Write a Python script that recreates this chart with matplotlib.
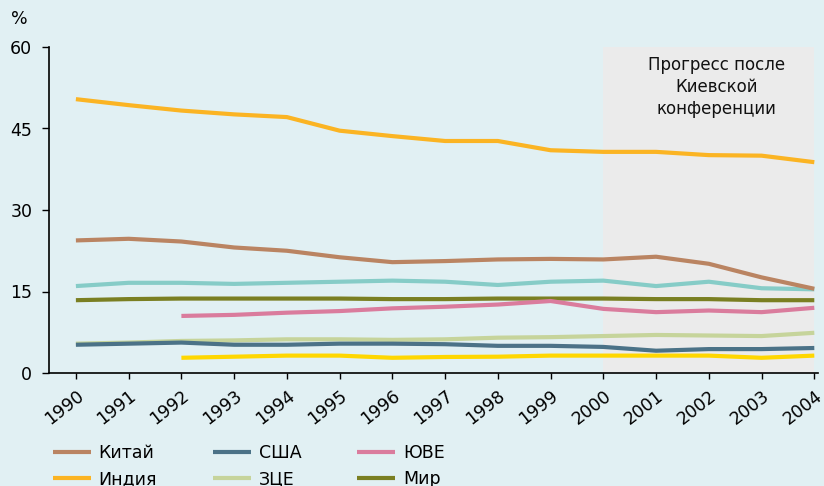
import matplotlib
matplotlib.use("Agg")
import matplotlib.pyplot as plt

years = list(range(1990, 2005))
years_from_1992 = list(range(1992, 2005))

china = [24.4, 24.7, 24.2, 23.1, 22.5, 21.3, 20.4, 20.6, 20.9, 21.0, 20.9, 21.4, 20.1, 17.6, 15.5]
india = [50.4, 49.3, 48.3, 47.6, 47.1, 44.6, 43.6, 42.7, 42.7, 41.0, 40.7, 40.7, 40.1, 40.0, 38.8]
usa = [5.2, 5.4, 5.6, 5.2, 5.2, 5.4, 5.4, 5.3, 5.0, 5.0, 4.8, 4.1, 4.4, 4.4, 4.6]
wce = [5.4, 5.6, 5.9, 6.0, 6.2, 6.2, 6.1, 6.2, 6.5, 6.6, 6.8, 7.0, 6.9, 6.8, 7.4]
see = [10.5, 10.7, 11.1, 11.4, 11.9, 12.2, 12.6, 13.25, 11.8, 11.2, 11.5, 11.2, 12.0]
world = [13.4, 13.6, 13.7, 13.7, 13.7, 13.7, 13.6, 13.6, 13.7, 13.7, 13.7, 13.6, 13.6, 13.4, 13.4]
other_cyan = [16.0, 16.6, 16.6, 16.4, 16.6, 16.8, 17.0, 16.8, 16.2, 16.8, 17.0, 16.0, 16.8, 15.6, 15.4]
other_yellow = [2.8, 3.0, 3.2, 3.2, 2.8, 2.95, 3.0, 3.2, 3.2, 3.2, 3.2, 2.8, 3.2]

yticks = [0, 15, 30, 45, 60]
annotation = "Прогресс после\nКиевской\nконференции"

bg = "#E1F0F3"
fig = plt.figure(figsize=(8.24, 4.86), dpi=100, facecolor=bg)
ax = fig.add_axes([49/824, 1-373/486, (818-49)/824, (373-47)/486], facecolor=bg)

ax.axvspan(2000, 2004, ymin=0, ymax=1, color="#EBEBEB", zorder=0, lw=0)
ax.text(2002.15, 58.4, annotation, ha="center", va="top", fontsize=12,
        linespacing=1.28, color="#111111")

lw = 3.0
ax.plot(years, other_cyan, color="#86CCC7", lw=lw, solid_capstyle="butt")
ax.plot(years, world, color="#7A7F22", lw=lw, solid_capstyle="butt", label="Мир")
ax.plot(years_from_1992, see, color="#DA7C9D", lw=lw, solid_capstyle="butt", label="ЮВЕ")
ax.plot(years, wce, color="#C6D49B", lw=lw, solid_capstyle="butt", label="ЗЦЕ")
ax.plot(years, usa, color="#4B7287", lw=lw, solid_capstyle="butt", label="США")
ax.plot(years_from_1992, other_yellow, color="#FFD700", lw=lw, solid_capstyle="butt")
ax.plot(years, china, color="#BA8462", lw=lw, solid_capstyle="butt", label="Китай")
ax.plot(years, india, color="#FBB423", lw=lw, solid_capstyle="butt", label="Индия")

ax.set_xlim(1989.49, 2004.07)
ax.set_ylim(0, 60)
ax.set_yticks(yticks)
ax.set_yticklabels([str(t) for t in yticks], fontsize=12.5)
ax.set_xticks(years)
ax.set_xticklabels([str(y) for y in years], fontsize=12.5, rotation=38,
                   ha="right", rotation_mode="anchor")
ax.tick_params(axis="y", length=5, width=1, pad=7)
ax.tick_params(axis="x", length=4, width=1, pad=6)
for s in ["top", "right"]:
    ax.spines[s].set_visible(False)
for s in ["left", "bottom"]:
    ax.spines[s].set_linewidth(1.2)

fig.text(11/824, 1-19/486, "%", fontsize=12.5, va="center", ha="left")

handles, labels = ax.get_legend_handles_labels()
order = ["Китай", "Индия", "США", "ЗЦЕ", "ЮВЕ", "Мир"]
hmap = dict(zip(labels, handles))
leg = fig.legend([hmap[o] for o in order], order, ncol=3, loc="upper left",
                 bbox_to_anchor=(37/824, 1-428/486), frameon=False, fontsize=12.5,
                 handlelength=2.2, handletextpad=0.45, columnspacing=3.2,
                 labelspacing=0.5)

fig.savefig("out.png", dpi=100, facecolor=bg)
